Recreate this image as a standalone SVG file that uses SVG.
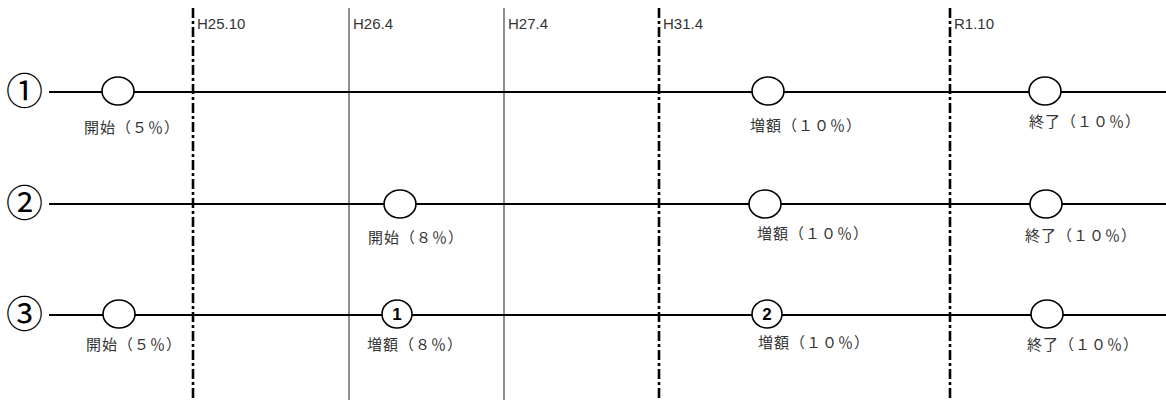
<svg xmlns="http://www.w3.org/2000/svg" width="1166" height="400" viewBox="0 0 1166 400">
<style>
.bg{fill:#fff}
.row{stroke:#000;stroke-width:2.2;fill:none}
.dd{stroke:#000;stroke-width:2.6;stroke-dasharray:10 3 3 3;fill:none}
.sl{stroke:#444;stroke-width:1.2;fill:none}
.node{fill:#fff;stroke:#000;stroke-width:1.6}
.date{font-family:"Liberation Sans",Arial,sans-serif;font-size:15px;fill:#333}
.lbl{font-family:"Noto Sans CJK JP","Noto Sans",sans-serif;font-size:15px;letter-spacing:1px;fill:#333}
.num{font-family:"Noto Sans CJK JP","DejaVu Sans",sans-serif;font-size:37px;fill:#000}
.inner{font-family:"Liberation Sans",Arial,sans-serif;font-size:17px;font-weight:bold;fill:#000;text-anchor:middle}
</style>
<rect class="bg" x="0" y="0" width="1166" height="400"/>
<g id="timeline">
<line class="dd" x1="193" y1="8" x2="193" y2="400"/>
<line class="sl" x1="349" y1="8" x2="349" y2="400"/>
<line class="sl" x1="504" y1="8" x2="504" y2="400"/>
<line class="dd" x1="659" y1="8" x2="659" y2="400"/>
<line class="dd" x1="950" y1="8" x2="950" y2="400"/>
<text class="date" x="197" y="29">H25.10</text>
<text class="date" x="353" y="29">H26.4</text>
<text class="date" x="508" y="29">H27.4</text>
<text class="date" x="663" y="29">H31.4</text>
<text class="date" x="954" y="29">R1.10</text>
</g>
<g id="connectors">
<line class="row" x1="49" y1="92" x2="1166" y2="92"/>
<line class="row" x1="49" y1="204" x2="1166" y2="204"/>
<line class="row" x1="49" y1="315" x2="1166" y2="315"/>
</g>
<g id="row1">
<text class="num" x="6" y="105">①</text>
<g id="r1n1"><ellipse class="node" cx="118" cy="91" rx="16" ry="14"/><text class="lbl" x="84" y="133">開始（５％）</text></g>
<g id="r1n2"><ellipse class="node" cx="768" cy="91" rx="16" ry="14"/><text class="lbl" x="750" y="131">増額（１０％）</text></g>
<g id="r1n3"><ellipse class="node" cx="1045" cy="91" rx="16" ry="14"/><text class="lbl" x="1029" y="127">終了（１０％）</text></g>
</g>
<g id="row2">
<text class="num" x="6" y="217">②</text>
<g id="r2n1"><ellipse class="node" cx="400" cy="204" rx="16" ry="14"/><text class="lbl" x="368" y="243">開始（８％）</text></g>
<g id="r2n2"><ellipse class="node" cx="765" cy="204" rx="16" ry="14"/><text class="lbl" x="757" y="239">増額（１０％）</text></g>
<g id="r2n3"><ellipse class="node" cx="1046" cy="204" rx="16" ry="14"/><text class="lbl" x="1025" y="241">終了（１０％）</text></g>
</g>
<g id="row3">
<text class="num" x="6" y="328">③</text>
<g id="r3n1"><ellipse class="node" cx="119" cy="314" rx="16" ry="14"/><text class="lbl" x="86" y="350">開始（５％）</text></g>
<g id="r3n2"><ellipse class="node" cx="397" cy="314" rx="15" ry="14"/><text class="inner" x="397" y="320">1</text><text class="lbl" x="367" y="350">増額（８％）</text></g>
<g id="r3n3"><ellipse class="node" cx="767" cy="314" rx="15" ry="14"/><text class="inner" x="767" y="320">2</text><text class="lbl" x="758" y="348">増額（１０％）</text></g>
<g id="r3n4"><ellipse class="node" cx="1047" cy="314" rx="16" ry="14"/><text class="lbl" x="1027" y="350">終了（１０％）</text></g>
</g>
</svg>
